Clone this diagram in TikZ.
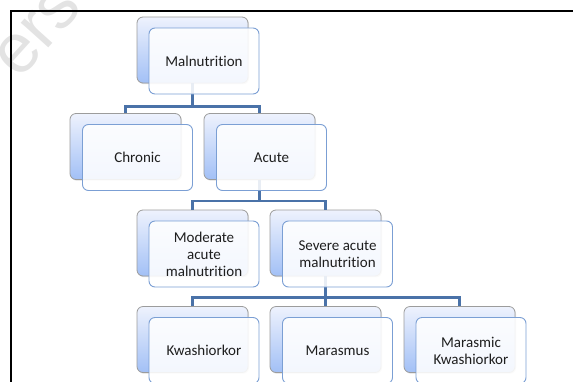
\documentclass[tikz,border=0pt]{standalone}
\usepackage{fontspec}
\setmainfont{Carlito}[RawFeature={-liga;-clig;-dlig}]
\newfontfamily\wmfont{Liberation Sans}
\usetikzlibrary{shadows}
\definecolor{conncol}{HTML}{4A72A8}
\definecolor{backtop}{HTML}{EEF2FD}
\definecolor{backbot}{HTML}{A2C0F6}
\definecolor{backdraw}{HTML}{9C9C9C}
\definecolor{frontdraw}{HTML}{7B9FD4}
\definecolor{txtcol}{HTML}{1E1E1E}
\tikzset{
  backbox/.style={draw=backdraw, line width=0.8pt, rounded corners=6pt,
    top color=backtop, bottom color=backbot, minimum width=111pt, minimum height=66pt,
    inner sep=0pt, drop shadow={shadow xshift=1pt, shadow yshift=-1.2pt, opacity=0.25}},
  frontbox/.style={draw=frontdraw, line width=0.9pt, rounded corners=6pt,
    fill=white, fill opacity=0.88, text opacity=1, text=txtcol,
    minimum width=110pt, minimum height=66pt, inner sep=0pt, align=center,
    font=\fontsize{15}{17}\selectfont},
  conn/.style={draw=conncol, line width=2.4pt},
  border/.style={draw=black, line width=2pt}
}
\begin{document}
\begin{tikzpicture}[x=1pt,y=-1pt]
\useasboundingbox (0,0) rectangle (573,381);
% watermark
\node[text=black!11, rotate=48, font=\wmfont\fontsize{70}{70}\selectfont] (wm) at (38,32) {ers};
% border
\coordinate (bl) at (11,383);
\coordinate (tl) at (11,11);
\coordinate (tr) at (575,11);
\draw[border] (bl) -- (tl) -- (tr);
% back boxes
\node[backbox] (mB) at (192.5,50) {};
\node[backbox] (cB) at (125.5,146.5) {};
\node[backbox] (aB) at (259.5,146.5) {};
\node[backbox] (modB) at (192.5,243) {};
\node[backbox] (sevB) at (325.5,243) {};
\node[backbox] (kwB) at (192.5,339.5) {};
\node[backbox] (maB) at (325.5,339.5) {};
\node[backbox] (mkB) at (459.5,339.5) {};
% connectors
\draw[conn] (mB.south) -- ++(0,23) -| (cB.north);
\draw[conn] (mB.south) -- ++(0,23) -| (aB.north);
\draw[conn] (aB.south) -- ++(0,21) -| (modB.north);
\draw[conn] (aB.south) -- ++(0,21) -| (sevB.north);
\draw[conn] (sevB.south) -- ++(0,21) -| (kwB.north);
\draw[conn] (sevB.south) -- ++(0,21) -| (maB.north);
\draw[conn] (sevB.south) -- ++(0,21) -| (mkB.north);
% front boxes
\node[frontbox] (m) at (204,61) {Malnutrition};
\node[frontbox] (c) at (137.5,157.5) {Chronic};
\node[frontbox] (a) at (271.5,157.5) {Acute};
\node[frontbox] (mod) at (204,254) {Moderate\\acute\\malnutrition};
\node[frontbox] (sev) at (337.5,254) {Severe acute\\malnutrition};
\node[frontbox] (kw) at (204,350.5) {Kwashiorkor};
\node[frontbox] (ma) at (337.5,350.5) {Marasmus};
\node[frontbox] (mk) at (471,350.5) {Marasmic\\Kwashiorkor};
\end{tikzpicture}
\end{document}
